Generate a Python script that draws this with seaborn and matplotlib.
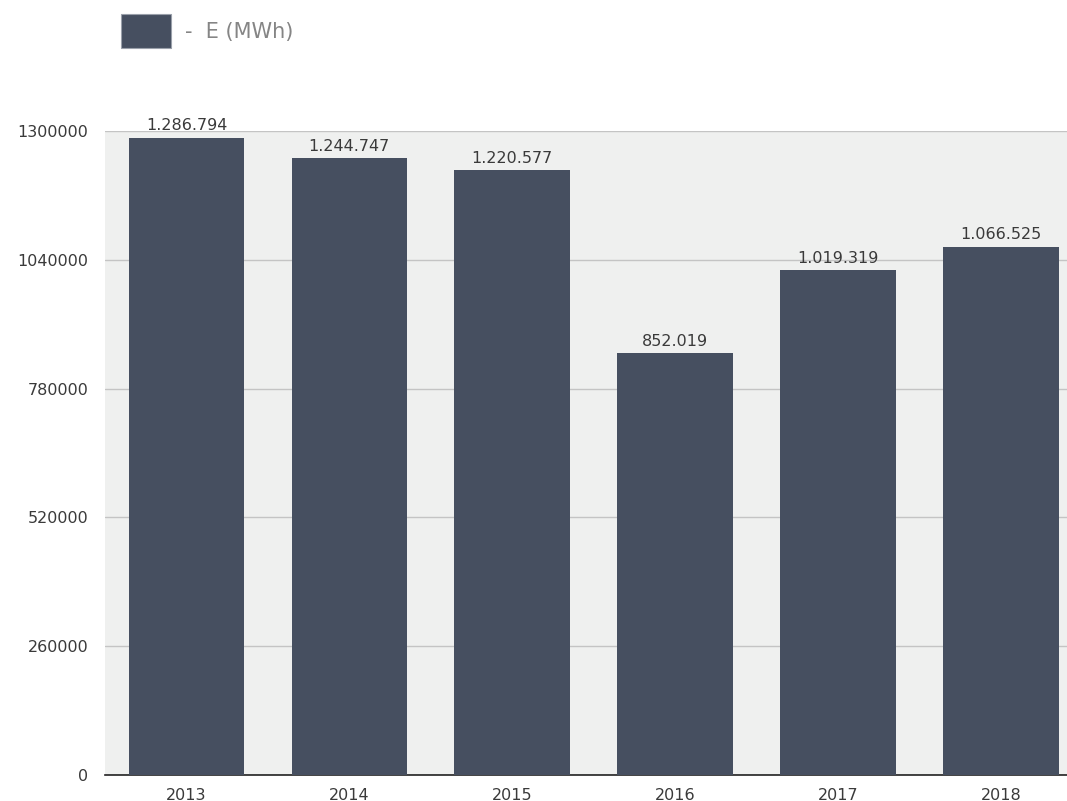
import numpy as np
import pandas as pd
import matplotlib
matplotlib.use("Agg")
import matplotlib.pyplot as plt
import seaborn as sns
from matplotlib.patches import Rectangle

# data
years = ["2013", "2014", "2015", "2016", "2017", "2018"]
energy = [1286794, 1244747, 1220577, 852019, 1019319, 1066525]
yticks = [0, 260000, 520000, 780000, 1040000, 1300000]

bar_color = "#464f60"
bg_color = "#eff0ef"

sns.set_style("white")
plt.rcParams['font.family'] = ['DejaVu Sans']

df = pd.DataFrame({"year": years, "E": energy})

fig = plt.figure(figsize=(10.67, 8.01), dpi=100)
ax = fig.add_axes([105 / 1067, 26 / 801, 977.5 / 1067, 644 / 801])
ax.set_facecolor(bg_color)

sns.barplot(data=df, x="year", y="E", color=bar_color, saturation=1,
            width=0.71, linewidth=0, ax=ax, zorder=3)

ax.set_xlim(-0.5, 5.5)
ax.set_ylim(0, 1300000)
ax.set_yticks(yticks)
ax.set_yticklabels([str(v) for v in yticks])
ax.yaxis.grid(True, color="#c4c4c4", linewidth=1, zorder=0)
ax.set_axisbelow(True)
ax.set_xlabel("")
ax.set_ylabel("")
for s in ["top", "right", "left"]:
    ax.spines[s].set_visible(False)
ax.spines["bottom"].set_color("#222222")
ax.spines["bottom"].set_linewidth(1.2)
ax.tick_params(axis="both", length=0, labelsize=11.5, labelcolor="#3a3a3a")
ax.tick_params(axis="y", pad=12)
ax.tick_params(axis="x", pad=9)

# value labels like 1.286.794
for i, v in enumerate(energy):
    lbl = f"{v:,}".replace(",", ".")
    ax.annotate(lbl, (i, v), xytext=(0, 3), textcoords="offset points",
                ha="center", va="bottom", fontsize=11.5, color="#3a3a3a")

# legend at top left
fig.patches.append(Rectangle((121 / 1067, 1 - 48 / 801), 50 / 1067, 34 / 801,
                             transform=fig.transFigure, facecolor=bar_color,
                             edgecolor="#9aa0aa", linewidth=0.8))
fig.text(185 / 1067, 1 - 32 / 801, "-  E (MWh)", fontsize=15, color="#858585",
         va="center", ha="left")

fig.savefig("out.png", dpi=100)
